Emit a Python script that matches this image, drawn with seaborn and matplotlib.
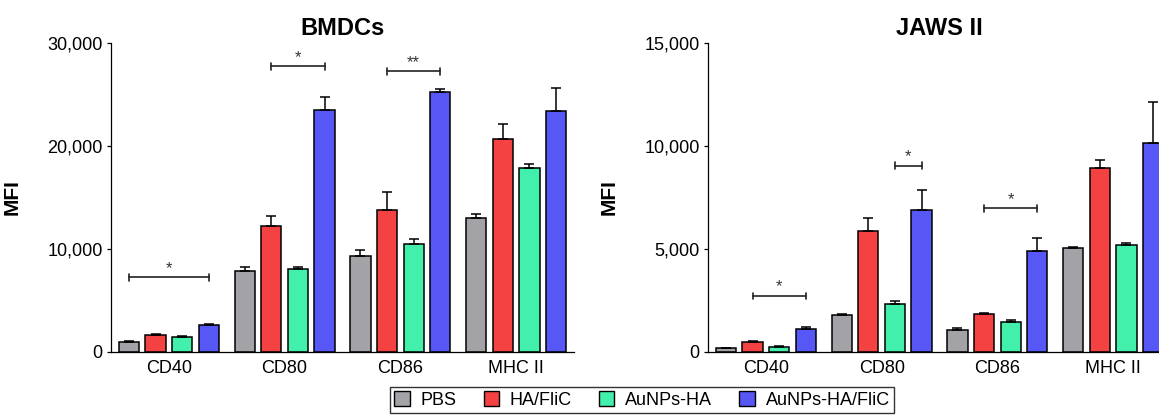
import numpy as np
import pandas as pd
import seaborn as sns
import matplotlib.pyplot as plt
from matplotlib.patches import Patch
from matplotlib.ticker import FuncFormatter

# Dados
markers = ['CD40', 'CD80', 'CD86', 'MHC II']
groups = ['PBS', 'HA/FliC', 'AuNPs-HA', 'AuNPs-HA/FliC']
colors = ['#a2a2a7', '#f44242', '#42f0ac', '#5757f5']

bmdc_mean = {
    'PBS':           [1000, 7820, 9350, 12980],
    'HA/FliC':       [1650, 12270, 13800, 20640],
    'AuNPs-HA':      [1430, 8050, 10490, 17890],
    'AuNPs-HA/FliC': [2600, 23470, 25290, 23400],
}
bmdc_err = {
    'PBS':           [100, 420, 510, 390],
    'HA/FliC':       [100, 970, 1780, 1460],
    'AuNPs-HA':      [100, 250, 480, 320],
    'AuNPs-HA/FliC': [100, 1330, 250, 2240],
}
jaws_mean = {
    'PBS':           [195, 1800, 1090, 5030],
    'HA/FliC':       [470, 5890, 1830, 8930],
    'AuNPs-HA':      [260, 2330, 1460, 5190],
    'AuNPs-HA/FliC': [1100, 6900, 4890, 10130],
}
jaws_err = {
    'PBS':           [20, 30, 80, 50],
    'HA/FliC':       [40, 600, 50, 380],
    'AuNPs-HA':      [30, 170, 80, 120],
    'AuNPs-HA/FliC': [110, 970, 620, 1990],
}

# (marcador, grupo inicial, grupo final, altura, texto)
bmdc_sig = [(0, 0, 3, 7270, '*'), (1, 1, 3, 27720, '*'), (2, 1, 3, 27240, '**')]
jaws_sig = [(0, 1, 3, 2720, '*'), (1, 2, 3, 9040, '*'), (2, 1, 3, 6970, '*')]

sns.set_style('ticks')
plt.rcParams['font.family'] = ['Liberation Sans', 'DejaVu Sans']
plt.rcParams['text.color'] = 'black'
plt.rcParams['axes.labelcolor'] = 'black'
plt.rcParams['xtick.color'] = 'black'
plt.rcParams['ytick.color'] = 'black'
plt.rcParams['axes.edgecolor'] = 'black'


def to_long(means):
    rows = []
    for g in groups:
        for m, v in zip(markers, means[g]):
            rows.append({'marker': m, 'group': g, 'MFI': v})
    return pd.DataFrame(rows)


def painel(ax, means, errs, sig, title, ymax, step):
    df = to_long(means)
    sns.barplot(data=df, x='marker', y='MFI', hue='group', order=markers,
                hue_order=groups, palette=colors, width=0.92, gap=0.24,
                edgecolor='black', linewidth=1.1, errorbar=None,
                legend=False, ax=ax, saturation=1)
    for g, cont in zip(groups, ax.containers):
        xs = [b.get_x() + b.get_width() / 2 for b in cont]
        ys = [b.get_height() for b in cont]
        ax.errorbar(xs, ys, yerr=[np.zeros(len(xs)), errs[g]], fmt='none',
                    ecolor='black', elinewidth=1.1, capsize=3.6,
                    capthick=1.1, zorder=1)
    for mi, h0, h1, y, txt in sig:
        b0 = ax.containers[h0][mi]
        b1 = ax.containers[h1][mi]
        x0 = b0.get_x() + b0.get_width() / 2
        x1 = b1.get_x() + b1.get_width() / 2
        ax.plot([x0, x1], [y, y], color='#222222', lw=1.2)
        cap = ymax * 0.011
        ax.plot([x0, x0], [y - cap, y + cap], color='#222222', lw=1.2)
        ax.plot([x1, x1], [y - cap, y + cap], color='#222222', lw=1.2)
        ax.annotate(txt, xy=((x0 + x1) / 2, y), xytext=(0, 1),
                    textcoords='offset points', ha='center', va='bottom',
                    fontsize=12, color='#333333')
    ax.set_xlim(-0.5, 3.5)
    ax.set_ylim(0, ymax)
    ax.set_yticks(np.arange(0, ymax + 1, step))
    ax.yaxis.set_major_formatter(FuncFormatter(lambda v, p: f'{v:,.0f}'))
    ax.set_title(title, fontsize=17, fontweight='bold', pad=6)
    ax.set_xlabel('')
    ax.set_ylabel('MFI', fontsize=15, fontweight='bold')
    ax.yaxis.set_label_coords(-0.193, 0.5)
    ax.tick_params(axis='y', length=3, width=0.9, labelsize=13, pad=3)
    ax.tick_params(axis='x', length=0, labelsize=13, pad=6)
    for s in ['left', 'bottom']:
        ax.spines[s].set_linewidth(0.9)
    sns.despine(ax=ax)


fig = plt.figure(figsize=(11.59, 4.2), dpi=100)
ax1 = fig.add_axes([111 / 1159, 1 - 352 / 420, 463 / 1159, 309 / 420])
ax2 = fig.add_axes([708 / 1159, 1 - 352 / 420, 463 / 1159, 309 / 420])
painel(ax1, bmdc_mean, bmdc_err, bmdc_sig, 'BMDCs', 30000, 10000)
painel(ax2, jaws_mean, jaws_err, jaws_sig, 'JAWS II', 15000, 5000)

handles = [Patch(facecolor=c, edgecolor='black', linewidth=1) for c in colors]
leg = fig.legend(handles, groups, loc='lower center', ncol=4,
                 bbox_to_anchor=(642 / 1159, -0.005), fontsize=13,
                 frameon=True, fancybox=False, edgecolor='black',
                 handlelength=0.85, handleheight=0.85, handletextpad=0.6,
                 columnspacing=1.5, borderpad=0.25)
leg.get_frame().set_linewidth(1.0)

plt.savefig('out.png', dpi=100)
